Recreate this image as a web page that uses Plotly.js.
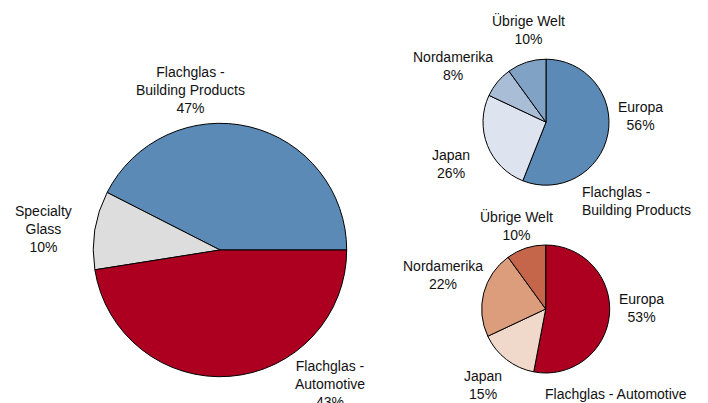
<!DOCTYPE html>
<html>
<head>
<meta charset="utf-8">
<script src="https://cdn.plot.ly/plotly-3.0.1.min.js"></script>
<style>html,body{margin:0;padding:0;background:#fff;}#chart{width:708px;height:403px;}</style>
</head>
<body>
<div id="chart"></div>
<script>
// Main split (slice sizes as drawn; printed shares as labelled)
const mainLabels = ["Flachglas -<br>Building Products", "Specialty<br>Glass", "Flachglas -<br>Automotive"];
const mainValues = [42.5, 10, 47.5];
const mainShares = ["47%", "10%", "43%"];
const mainColors = ["#5a8ab5", "#dddddd", "#ad0021"];

// Regions
const regionLabels = ["Europa", "Japan", "Nordamerika", "Übrige Welt"];
const buildingValues = [56, 26, 8, 10];
const buildingShares = ["56%", "26%", "8%", "10%"];
const buildingColors = ["#5a8ab5", "#dde4ef", "#a9bdd7", "#80a2c4"];
const automotiveValues = [53, 15, 22, 10];
const automotiveShares = ["53%", "15%", "22%", "10%"];
const automotiveColors = ["#ad0021", "#f0d9cb", "#dc9d7c", "#c5654a"];
const subTitles = ["Flachglas -<br>Building Products", "Flachglas - Automotive"];

const W = 708, H = 403;
const px = x => x / W, py = y => 1 - y / H;
const line = {color: "#000", width: 1};

// first slice should start at 3 o'clock and run counterclockwise
const mainTotal = mainValues.reduce((a, b) => a + b, 0);
const mainRotation = 90 - mainValues[0] / mainTotal * 360;

const traces = [
  {type: "pie", labels: mainLabels, values: mainValues, sort: false,
   direction: "counterclockwise", rotation: mainRotation,
   marker: {colors: mainColors, line: line}, textinfo: "none", hoverinfo: "none",
   domain: {x: [px(93.3), px(346.7)], y: [py(376.7), py(123.3)]}},
  {type: "pie", labels: regionLabels, values: buildingValues, sort: false,
   direction: "clockwise", rotation: 0,
   marker: {colors: buildingColors, line: line}, textinfo: "none", hoverinfo: "none",
   domain: {x: [px(483), px(609)], y: [py(185.2), py(59.2)]}},
  {type: "pie", labels: regionLabels, values: automotiveValues, sort: false,
   direction: "clockwise", rotation: 0,
   marker: {colors: automotiveColors, line: line}, textinfo: "none", hoverinfo: "none",
   domain: {x: [px(481.7), px(609.7)], y: [py(373), py(245)]}}
];

const font = {family: "Liberation Sans, Arial, sans-serif", size: 14, color: "#111"};
function ann(text, x, y, align) {
  return {text: text, x: px(x), y: py(y), xref: "paper", yref: "paper", showarrow: false,
          xanchor: align || "center", yanchor: "middle", align: align || "center", font: font};
}

// label anchor positions (pixel centres)
const mainPos = [[190, 90], [43, 229], [330, 384]];
const buildingPos = [[640, 116], [451, 164], [453, 66], [528, 29]];
const automotivePos = [[641, 308], [483, 385], [443, 275], [516, 225]];

const annotations = [];
mainLabels.forEach((l, i) => annotations.push(ann(l + "<br>" + mainShares[i], mainPos[i][0], mainPos[i][1])));
regionLabels.forEach((l, i) => annotations.push(ann(l + "<br>" + buildingShares[i], buildingPos[i][0], buildingPos[i][1])));
regionLabels.forEach((l, i) => annotations.push(ann(l + "<br>" + automotiveShares[i], automotivePos[i][0], automotivePos[i][1])));
annotations.push(ann(subTitles[0], 580, 201, "left"));
annotations.push(ann(subTitles[1], 543, 394, "left"));

Plotly.newPlot("chart", traces, {
  width: W, height: H, margin: {l: 0, r: 0, t: 0, b: 0},
  paper_bgcolor: "#fff", showlegend: false, annotations: annotations
}, {staticPlot: true, displayModeBar: false});
</script>
</body>
</html>
